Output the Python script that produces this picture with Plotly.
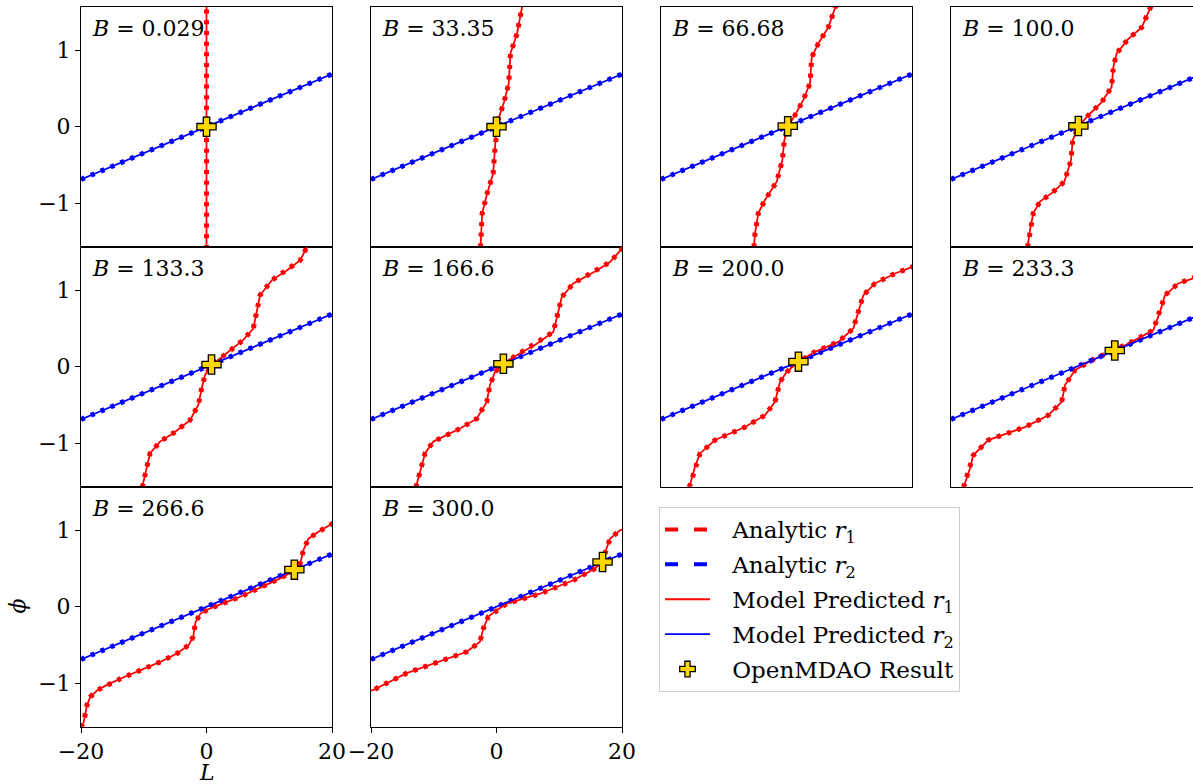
import math
import plotly.graph_objects as go

# ---------------------------------------------------------------------------
# Data: residual curves phi(L) for each value of B
# ---------------------------------------------------------------------------
B_labels = ["0.029", "33.35", "66.68", "100.0", "133.3",
            "166.6", "200.0", "233.3", "266.6", "300.0"]

# r2 residual curve (identical for every B)
r2_L = [-20.0, 0.0, 20.0]
r2_phi = [-0.69, 0.0, 0.69]

# r1 residual curves, one pair of lists per B
r1_phi_b0 = [-1.60, -0.80, 0.0, 0.80, 1.60]
r1_L_b0 = [0.0, 0.0, 0.0, 0.0, 0.0]

r1_phi_b1 = [-1.58, -1.13, -0.87, -0.61, -0.30, 0.0, 0.09, 0.31, 0.57, 0.96, 1.22, 1.58]
r1_L_b1 = [-2.55, -2.28, -1.48, -0.53, -0.26, 0.0, 0.26, 1.16, 1.96, 2.22, 3.28, 4.10]

r1_phi_b2 = [-1.58, -1.40, -1.13, -0.96, -0.72, -0.44, -0.18, 0.0, 0.15, 0.35, 0.57, 0.91, 1.09, 1.30, 1.58]
r1_L_b2 = [-5.20, -5.02, -4.49, -3.43, -1.56, -0.67, -0.35, 0.19, 1.35, 2.68, 3.75, 4.02, 5.07, 6.66, 7.85]

r1_phi_b3 = [-1.58, -1.35, -1.13, -0.98, -0.87, -0.72, -0.44, -0.18, 0.0, 0.15, 0.32, 0.52, 0.78, 0.96, 1.15, 1.30, 1.58]
r1_L_b3 = [-7.80, -7.41, -6.88, -5.82, -3.95, -1.94, -0.88, -0.61, 0.29, 1.89, 4.01, 5.60, 5.87, 6.40, 8.26, 10.39, 11.90]

r1_phi_b4 = [-1.58, -1.33, -1.135, -0.98, -0.87, -0.70, -0.50, -0.285, -0.11, 0.02, 0.17, 0.35, 0.50, 0.72, 0.935, 1.13, 1.26, 1.39, 1.58]
r1_L_b4 = [-10.25, -9.53, -9.0, -7.41, -5.29, -2.63, -1.30, -0.77, -0.24, 0.83, 3.20, 5.86, 7.46, 8.0, 8.53, 10.39, 12.78, 14.90, 16.10]

r1_phi_b5 = [-1.58, -1.29, -1.135, -0.98, -0.81, -0.68, -0.46, -0.24, -0.07, 0.04, 0.15, 0.30, 0.455, 0.72, 0.91, 1.09, 1.26, 1.37, 1.52, 1.60]
r1_L_b5 = [-12.85, -11.92, -11.39, -10.07, -5.82, -3.16, -1.56, -1.04, -0.24, 1.08, 3.22, 6.40, 9.05, 9.85, 10.39, 12.24, 15.97, 18.09, 19.79, 20.6]

r1_phi_b6 = [-1.58, -1.31, -1.135, -0.96, -0.79, -0.635, -0.46, -0.20, -0.07, 0.065, 0.195, 0.325, 0.50, 0.72, 0.935, 1.09, 1.22, 1.30, 1.36]
r1_L_b6 = [-15.50, -14.58, -13.78, -11.39, -6.61, -3.43, -1.83, -1.04, 0.03, 1.88, 4.54, 8.26, 10.65, 11.44, 12.24, 14.10, 17.29, 19.84, 21.5]

r1_phi_b7 = [-1.58, -1.33, -1.16, -0.96, -0.79, -0.635, -0.46, -0.24, -0.046, 0.085, 0.215, 0.325, 0.48, 0.72, 0.935, 1.09, 1.15, 1.20]
r1_L_b7 = [-18.00, -16.97, -16.45, -14.06, -8.21, -4.49, -2.36, -1.83, -0.24, 2.42, 6.14, 8.80, 12.24, 13.31, 14.10, 16.22, 18.36, 19.8]

r1_phi_b8 = [-1.58, -1.51, -1.29, -1.18, -1.09, -1.02, -0.94, -0.83, -0.72, -0.61, -0.50, -0.39, -0.20, -0.09, -0.03,
             0.03, 0.13, 0.25, 0.37, 0.48, 0.56, 0.74, 0.89, 0.98, 1.09, 1.11]
r1_L_b8 = [-20.0, -19.57, -19.05, -18.52, -17.35, -15.76, -13.65, -10.48, -7.30, -4.65, -2.81, -2.11, -1.75, -0.95, 0.37,
           2.22, 5.40, 8.57, 11.75, 14.13, 14.92, 15.44, 16.24, 17.83, 19.95, 20.5]

r1_phi_b9 = [-1.12, -1.09, -0.87, -0.72, -0.59, -0.46, -0.285, -0.13, -0.046, 0.04, 0.17, 0.346, 0.50, 0.585, 0.76, 0.89, 1.0, 1.02]
r1_L_b9 = [-21.0, -19.63, -14.31, -9.0, -4.75, -2.63, -2.10, -1.30, 0.03, 1.62, 6.93, 12.24, 15.70, 16.76, 17.56, 18.09, 19.68, 20.5]

r1_phi = [r1_phi_b0, r1_phi_b1, r1_phi_b2, r1_phi_b3, r1_phi_b4,
          r1_phi_b5, r1_phi_b6, r1_phi_b7, r1_phi_b8, r1_phi_b9]
r1_L = [r1_L_b0, r1_L_b1, r1_L_b2, r1_L_b3, r1_L_b4,
        r1_L_b5, r1_L_b6, r1_L_b7, r1_L_b8, r1_L_b9]

# OpenMDAO solver result for each B
result_L = [0.0, 0.0, 0.2, 0.3, 0.8, 1.1, 1.9, 6.1, 14.0, 16.9]
result_phi = [0.0, 0.0, 0.007, 0.01, 0.028, 0.038, 0.066, 0.212, 0.485, 0.585]

x_ticks = [-20, 0, 20]
y_ticks = [-1, 0, 1]

# ---------------------------------------------------------------------------
# Layout geometry (pixels)
# ---------------------------------------------------------------------------
W, H = 1193, 784
col_left = [81, 371, 661, 951]
col_w = 251
row_top = [6.7, 246.7, 486.7]
row_h = 240.0
PHI_MAX = math.pi / 2

RED = "#ff0000"
BLUE = "#0000ff"
GOLD = "#FFD700"
SERIF = "DejaVu Serif"
FS = 22
LEG_FS = 23
DOT_DASH = "4px,6.7px"
GAP = "\u2002\u2005"  # space between legend sample and label

fig = go.Figure()
layout_axes = {}
annotations = []

for i, lbl in enumerate(B_labels):
    row, col = divmod(i, 4)
    n = "" if i == 0 else str(i + 1)
    xa, ya = "x" + n, "y" + n

    x0 = col_left[col] / W
    x1 = min((col_left[col] + col_w) / W, 1.0)
    y1 = 1 - row_top[row] / H
    y0 = 1 - (row_top[row] + row_h) / H

    # right-most column runs past the page edge
    vis_px = min(col_w, W - col_left[col])
    x_hi = -20 + 40 * vis_px / col_w

    bottom_labels = (row == 2)
    left_labels = (col == 0)

    layout_axes["xaxis" + n] = dict(
        domain=[x0, x1], range=[-20, x_hi], anchor=ya, automargin=False,
        showline=True, linecolor="black", linewidth=1, mirror=True,
        showgrid=False, zeroline=False,
        tickvals=x_ticks, ticks="outside" if bottom_labels else "",
        ticklen=5, tickcolor="black",
        showticklabels=bottom_labels,
        tickfont=dict(family=SERIF, size=FS, color="black"),
    )
    layout_axes["yaxis" + n] = dict(
        domain=[y0, y1], range=[-PHI_MAX, PHI_MAX], anchor=xa, automargin=False,
        showline=True, linecolor="black", linewidth=1,
        mirror=(col != 3),
        showgrid=False, zeroline=False,
        tickvals=y_ticks, ticks="outside" if left_labels else "",
        ticklen=5, tickcolor="black",
        showticklabels=left_labels,
        tickfont=dict(family=SERIF, size=FS, color="black"),
    )

    # analytic curves (thick dashed) under the model curves (thin solid)
    fig.add_trace(go.Scatter(x=r1_L[i], y=r1_phi[i], xaxis=xa, yaxis=ya, mode="lines",
                             line=dict(color=RED, width=5, dash=DOT_DASH),
                             showlegend=False, hoverinfo="skip"))
    fig.add_trace(go.Scatter(x=r2_L, y=r2_phi, xaxis=xa, yaxis=ya, mode="lines",
                             line=dict(color=BLUE, width=5, dash=DOT_DASH),
                             showlegend=False, hoverinfo="skip"))
    fig.add_trace(go.Scatter(x=r1_L[i], y=r1_phi[i], xaxis=xa, yaxis=ya, mode="lines",
                             line=dict(color=RED, width=1.8),
                             showlegend=False, hoverinfo="skip"))
    fig.add_trace(go.Scatter(x=r2_L, y=r2_phi, xaxis=xa, yaxis=ya, mode="lines",
                             line=dict(color=BLUE, width=1.8),
                             showlegend=False, hoverinfo="skip"))
    fig.add_trace(go.Scatter(x=[result_L[i]], y=[result_phi[i]], xaxis=xa, yaxis=ya,
                             mode="markers",
                             marker=dict(symbol="cross", size=16, color=GOLD,
                                         line=dict(color="black", width=1.3)),
                             showlegend=False, hoverinfo="skip", cliponaxis=False))

    annotations.append(dict(
        xref=xa + " domain", yref=ya + " domain", x=0.036, y=0.968,
        xanchor="left", yanchor="top", showarrow=False,
        text="<i>B</i> = " + lbl,
        font=dict(family=SERIF, size=FS, color="black"),
    ))

# legend entries
legend_items = [
    ("Analytic <i>r</i><sub>1</sub>", dict(color=RED, width=4, dash="13px,16px"), "lines", None),
    ("Analytic <i>r</i><sub>2</sub>", dict(color=BLUE, width=4, dash="13px,16px"), "lines", None),
    ("Model Predicted <i>r</i><sub>1</sub>", dict(color=RED, width=1.8), "lines", None),
    ("Model Predicted <i>r</i><sub>2</sub>", dict(color=BLUE, width=1.8), "lines", None),
    ("OpenMDAO Result", None, "markers",
     dict(symbol="cross", size=13, color=GOLD, line=dict(color="black", width=1.3))),
]
for k, (name, ln, mode, mk) in enumerate(legend_items):
    kw = dict(x=[None], y=[None], mode=mode, name=GAP + name, legendgroup="g%d" % k,
              showlegend=True, hoverinfo="skip")
    if ln is not None:
        kw["line"] = ln
    if mk is not None:
        kw["marker"] = mk
    fig.add_trace(go.Scatter(**kw))

# axis titles
annotations.append(dict(xref="paper", yref="paper", x=17 / W, y=1 - 606.5 / H,
                        xanchor="center", yanchor="middle",
                        text="<i>ϕ</i>", showarrow=False, textangle=-90,
                        font=dict(family=SERIF, size=FS, color="black")))
annotations.append(dict(xref="paper", yref="paper", x=206.5 / W, y=0,
                        xanchor="center", yanchor="bottom", height=20, valign="middle",
                        text="<i>L</i>", showarrow=False,
                        font=dict(family=SERIF, size=FS, color="black")))

fig.update_layout(
    template="none",
    width=W, height=H,
    margin=dict(l=0, r=0, t=0, b=0, autoexpand=False),
    paper_bgcolor="white", plot_bgcolor="white",
    showlegend=True,
    legend=dict(x=659 / W, y=1 - 507 / H, xanchor="left", yanchor="top",
                bgcolor="white", bordercolor="#cccccc", borderwidth=1,
                font=dict(family=SERIF, size=LEG_FS, color="black"),
                itemwidth=45, tracegroupgap=2),
    annotations=annotations,
    **layout_axes,
)

fig.write_html("out.html")
